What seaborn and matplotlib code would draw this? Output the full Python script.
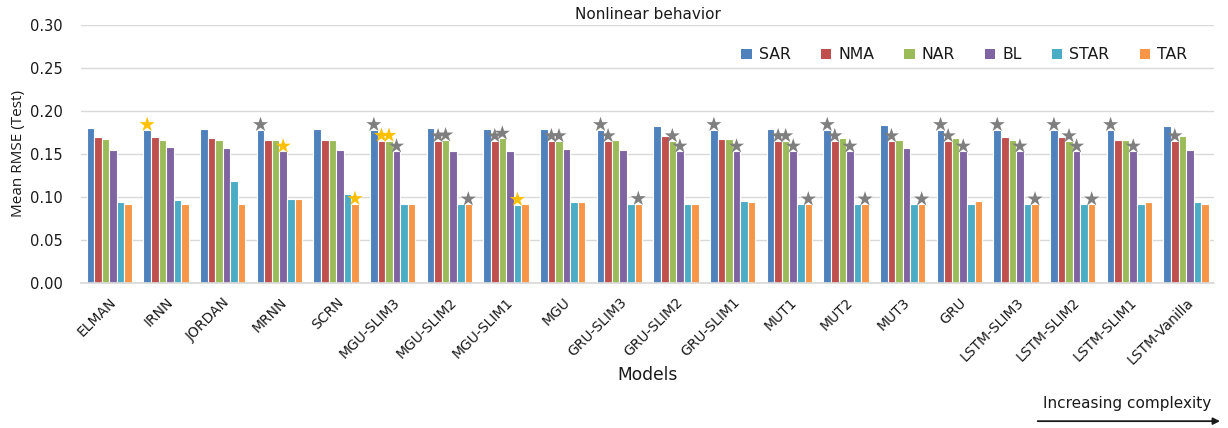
import matplotlib
matplotlib.use("Agg")
import matplotlib.pyplot as plt
import seaborn as sns
import pandas as pd

models = ["ELMAN", "IRNN", "JORDAN", "MRNN", "SCRN", "MGU-SLIM3", "MGU-SLIM2",
          "MGU-SLIM1", "MGU", "GRU-SLIM3", "GRU-SLIM2", "GRU-SLIM1", "MUT1", "MUT2",
          "MUT3", "GRU", "LSTM-SLIM3", "LSTM-SLIM2", "LSTM-SLIM1", "LSTM-Vanilla"]
series = ["SAR", "NMA", "NAR", "BL", "STAR", "TAR"]

sar  = [0.180, 0.178, 0.179, 0.178, 0.179, 0.178, 0.180, 0.179, 0.179, 0.178,
        0.182, 0.178, 0.179, 0.178, 0.183, 0.178, 0.178, 0.178, 0.178, 0.182]
nma  = [0.170, 0.170, 0.169, 0.166, 0.166, 0.1655, 0.165, 0.165, 0.165, 0.165,
        0.171, 0.167, 0.165, 0.165, 0.165, 0.165, 0.170, 0.170, 0.166, 0.165]
nar  = [0.167, 0.166, 0.166, 0.166, 0.166, 0.1655, 0.166, 0.168, 0.165, 0.166,
        0.165, 0.167, 0.165, 0.168, 0.166, 0.168, 0.166, 0.165, 0.166, 0.171]
bl   = [0.154, 0.158, 0.157, 0.153, 0.154, 0.153, 0.153, 0.153, 0.156, 0.154,
        0.153, 0.153, 0.153, 0.153, 0.157, 0.153, 0.153, 0.153, 0.153, 0.154]
star = [0.094, 0.096, 0.119, 0.097, 0.103, 0.0915, 0.092, 0.091, 0.094, 0.0915,
        0.0915, 0.095, 0.092, 0.0915, 0.0915, 0.092, 0.0915, 0.092, 0.092, 0.094]
tar  = [0.092, 0.092, 0.092, 0.098, 0.092, 0.092, 0.0915, 0.092, 0.094, 0.092,
        0.092, 0.094, 0.0915, 0.0915, 0.0915, 0.095, 0.0915, 0.0915, 0.094, 0.092]

# significance marks: (model, series)
gold_stars = [("IRNN", "SAR"), ("MRNN", "BL"), ("SCRN", "TAR"),
              ("MGU-SLIM3", "NMA"), ("MGU-SLIM3", "NAR"), ("MGU-SLIM1", "STAR")]
gray_stars = [("MRNN", "SAR"), ("MGU-SLIM3", "SAR"), ("MGU-SLIM3", "BL"),
              ("MGU-SLIM2", "NMA"), ("MGU-SLIM2", "NAR"), ("MGU-SLIM2", "TAR"),
              ("MGU-SLIM1", "NMA"), ("MGU-SLIM1", "NAR"),
              ("MGU", "NMA"), ("MGU", "NAR"),
              ("GRU-SLIM3", "SAR"), ("GRU-SLIM3", "NMA"), ("GRU-SLIM3", "TAR"),
              ("GRU-SLIM2", "NAR"), ("GRU-SLIM2", "BL"),
              ("GRU-SLIM1", "SAR"), ("GRU-SLIM1", "BL"),
              ("MUT1", "NMA"), ("MUT1", "NAR"), ("MUT1", "BL"), ("MUT1", "TAR"),
              ("MUT2", "SAR"), ("MUT2", "NMA"), ("MUT2", "BL"), ("MUT2", "TAR"),
              ("MUT3", "NMA"), ("MUT3", "TAR"),
              ("GRU", "SAR"), ("GRU", "NMA"), ("GRU", "BL"),
              ("LSTM-SLIM3", "SAR"), ("LSTM-SLIM3", "BL"), ("LSTM-SLIM3", "TAR"),
              ("LSTM-SLIM2", "SAR"), ("LSTM-SLIM2", "NAR"), ("LSTM-SLIM2", "BL"),
              ("LSTM-SLIM2", "TAR"),
              ("LSTM-SLIM1", "SAR"), ("LSTM-SLIM1", "BL"),
              ("LSTM-Vanilla", "NMA")]

palette = ["#4F81BD", "#C0504D", "#9BBB59", "#8064A2", "#4BACC6", "#F79646"]
yticks = [0.00, 0.05, 0.10, 0.15, 0.20, 0.25, 0.30]

values = dict(zip(series, [sar, nma, nar, bl, star, tar]))
df = pd.DataFrame([(m, s, values[s][i]) for s in series for i, m in enumerate(models)],
                  columns=["model", "series", "rmse"])

sns.set_theme(style="white")
plt.rcParams["font.family"] = ["DejaVu Sans"]
txt = "#1a1a1a"

fig = plt.figure(figsize=(12.28, 4.28), dpi=100)
ax = fig.add_axes([0.066, 0.339, 0.923, 0.603])

sns.barplot(data=df, x="model", y="rmse", hue="series", order=models,
            hue_order=series, palette=palette, width=0.8, saturation=1,
            edgecolor="white", linewidth=0.8, ax=ax, legend=True)

ax.set_ylim(0, 0.30)
ax.set_xlim(-0.5, len(models) - 0.5)
ax.set_yticks(yticks)
ax.set_yticklabels([f"{t:.2f}" for t in yticks], fontsize=10.5, color=txt)
ax.yaxis.grid(True, color="#D9D9D9", linewidth=1)
ax.set_axisbelow(True)
for side in ["top", "right", "left"]:
    ax.spines[side].set_visible(False)
ax.spines["bottom"].set_color("#D9D9D9")
ax.tick_params(axis="both", length=0)
ax.tick_params(axis="y", pad=13)
ax.set_xticks(range(len(models)))
ax.set_xticklabels(models, rotation=45, ha="right", rotation_mode="anchor",
                   fontsize=10, color=txt)
ax.tick_params(axis="x", pad=9)

ax.set_ylabel("Mean RMSE (Test)", fontsize=11, color=txt,
              family=["Open Sans", "DejaVu Sans"])
ax.yaxis.set_label_coords(-0.049, 0.5)
ax.set_xlabel("Models", fontsize=12.3, color=txt)
ax.xaxis.set_label_coords(0.5, -0.322)
ax.set_title("Nonlinear behavior", fontsize=11, color=txt, pad=4)

# star markers placed on the bars' own centres
bar_x = {}
for s, cont in zip(series, ax.containers):
    for m, patch in zip(models, cont.patches):
        bar_x[(m, s)] = patch.get_x() + patch.get_width() / 2

for marks, col in [(gray_stars, "#7F7F7F"), (gold_stars, "#FFC000")]:
    xs = [bar_x[k] for k in marks]
    ys = [values[k[1]][models.index(k[0])] + 0.006 for k in marks]
    ax.scatter(xs, ys, marker="*", s=130, color=col, edgecolors="none", zorder=5)

leg = ax.legend(ncol=6, loc="center right", bbox_to_anchor=(0.976, 0.884),
                frameon=False, fontsize=11.3, handlelength=0.65, handleheight=0.65,
                handletextpad=0.45, columnspacing=1.93, borderpad=0,
                borderaxespad=0)
for h in leg.legend_handles:
    h.set_edgecolor("none")
for t in leg.get_texts():
    t.set_color(txt)

fig.text(0.918, 0.058, "Increasing complexity", ha="center", va="center",
         fontsize=11, color=txt)
fig.patches.append(matplotlib.patches.FancyArrowPatch(
    (0.845, 0.016), (0.9935, 0.016), transform=fig.transFigure,
    arrowstyle="-|>", mutation_scale=10, color="#1a1a1a", linewidth=1.3,
    shrinkA=0, shrinkB=0))

fig.savefig("out.png", dpi=100)
